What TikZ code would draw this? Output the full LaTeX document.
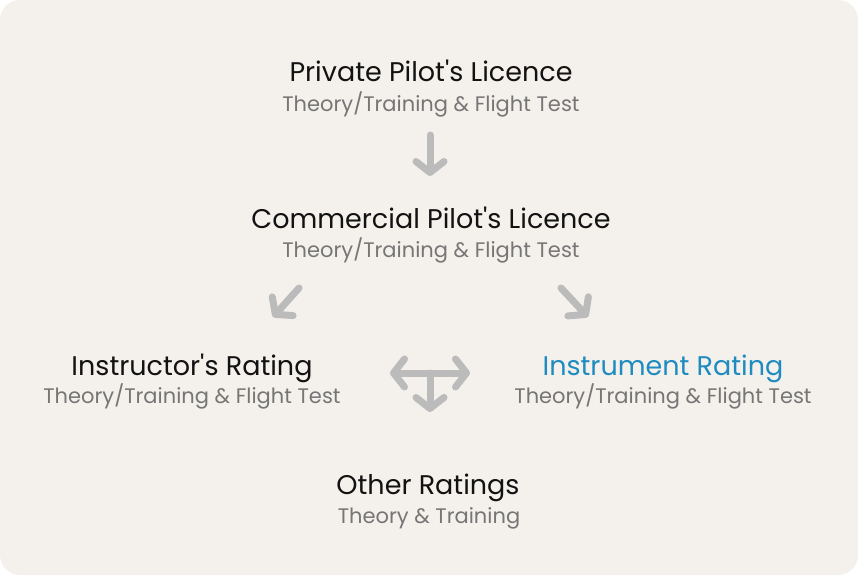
\documentclass[tikz,border=0pt]{standalone}
\usepackage{fontspec}
\setmainfont{Poppins}
\usetikzlibrary{arrows.meta}
\definecolor{panel}{HTML}{F4F1EC}
\definecolor{subgray}{HTML}{767676}
\definecolor{arrowgray}{HTML}{BBBBBB}
\definecolor{ratingblue}{HTML}{1E8CC0}
\begin{document}
\begin{tikzpicture}[x=1pt,y=-1pt,
	title/.style={anchor=base, inner sep=0pt, font=\fontsize{27}{32}\selectfont, text=black!93},
	subtitle/.style={anchor=base, inner sep=0pt, font=\fontsize{21}{25}\selectfont, text=subgray},
	arrowline/.style={draw=arrowgray, line width=7pt, line cap=round, -{Straight Barb[length=11pt,width=28pt,round]}}]
		\fill[white] (0,0) rectangle (858,575);
		\fill[panel, rounded corners=20pt] (0,0) rectangle (858,575);

		\node (ppl) [title] at (431,82) {Private Pilot\textquotesingle s Licence};
		\node (pplsub) [subtitle] at (431,111) {Theory/Training \& Flight Test};

		\node (cpl) [title] at (431,228) {Commercial Pilot\textquotesingle s Licence};
		\node (cplsub) [subtitle] at (431,257) {Theory/Training \& Flight Test};

		\node (instr) [title] at (192,375) {Instructor\textquotesingle s Rating};
		\node (instrsub) [subtitle] at (192,403) {Theory/Training \& Flight Test};

		\node (ir) [title, text=ratingblue] at (663,375) {Instrument Rating};
		\node (irsub) [subtitle] at (663,403) {Theory/Training \& Flight Test};

		\node (other) [title] at (428,494) {Other Ratings};
		\node (othersub) [subtitle] at (429,523) {Theory \& Training};

		% arrows
		\coordinate (a1) at (430,135);
		\coordinate (a2) at (430,176);
		\draw[arrowline] (a1) -- (a2);

		\coordinate (l1) at (299,288);
		\coordinate (l2) at (273,317);
		\draw[arrowline] (l1) -- (l2);

		\coordinate (r1) at (561,288);
		\coordinate (r2) at (588,317);
		\draw[arrowline] (r1) -- (r2);

		\coordinate (tl) at (390,373);
		\coordinate (tr) at (470,373);
		\coordinate (tm) at (430,373);
		\coordinate (tb) at (430,412);
		\draw[arrowline, {Straight Barb[length=11pt,width=28pt,round]}-{Straight Barb[length=11pt,width=28pt,round]}] (tl) -- (tr);
		\draw[arrowline] (tm) -- (tb);
	\end{tikzpicture}
\end{document}
